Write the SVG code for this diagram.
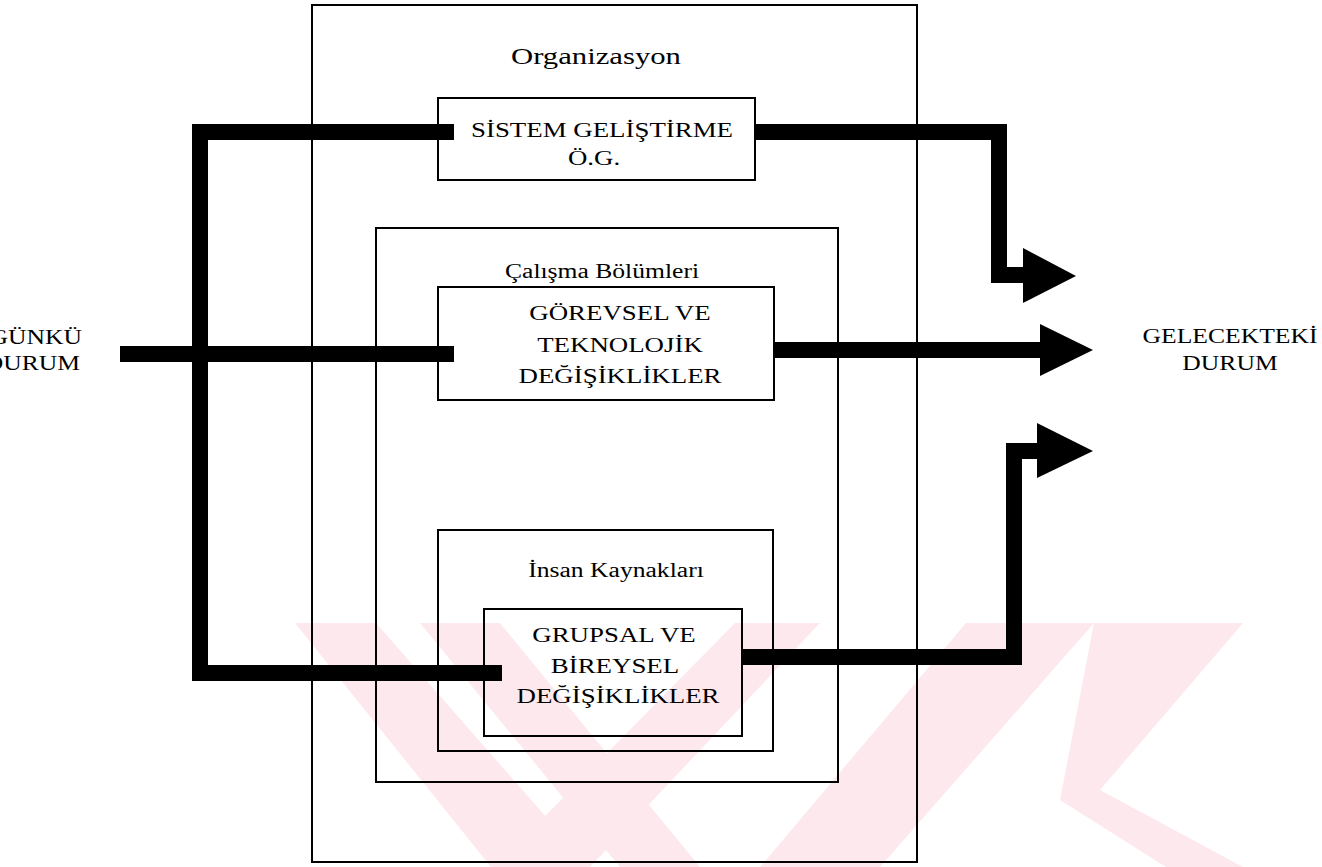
<svg xmlns="http://www.w3.org/2000/svg" width="1322" height="867" viewBox="0 0 1322 867">
  <style>
    .box { fill: none; stroke: #000; stroke-width: 2; }
    .flow { fill: none; stroke: #000; stroke-width: 16; stroke-linejoin: miter; stroke-linecap: butt; }
    .head { fill: #000; }
    text { font-family: "Liberation Serif", "Times New Roman", serif; fill: #000; }
    .t24 { font-size: 24px; }
    .t21 { font-size: 21px; }
    .t20 { font-size: 20px; }
    .wm { fill: #fde9ed; }
  </style>

  <rect width="1322" height="867" fill="#fff"/>

  <!-- pale background emblem -->
  <g id="emblem">
    <polygon class="wm" points="295,623 376,623 590,867 491,867"/>
    <polygon class="wm" points="420,623 500,623 700,867 620,867"/>
    <polygon class="wm" points="735,623 820,623 590,867 495,867"/>
    <polygon class="wm" points="966,623 1094,623 880,867 760,867"/>
    <polygon class="wm" points="1094,623 1243,623 1100,790 1243,867 1166,867 1060,800"/>
  </g>

  <!-- containers -->
  <g id="organizasyon">
    <rect class="box" x="312" y="5" width="605" height="857"/>
    <text class="t24" transform="translate(596,64) scale(1.28,1)" text-anchor="middle">Organizasyon</text>
  </g>

  <g id="sistem-gelistirme">
    <rect class="box" x="438" y="98" width="317" height="82"/>
    <text class="t21" transform="translate(602,137) scale(1.28,1)" text-anchor="middle">SİSTEM GELİŞTİRME</text>
    <text class="t21" transform="translate(594,165) scale(1.28,1)" text-anchor="middle">Ö.G.</text>
  </g>

  <g id="calisma-bolumleri">
    <rect class="box" x="376" y="228" width="462" height="554"/>
    <text class="t20" transform="translate(602,278) scale(1.28,1)" text-anchor="middle">Çalışma Bölümleri</text>
  </g>

  <g id="gorevsel">
    <rect class="box" x="438" y="287" width="336" height="113"/>
    <text class="t21" transform="translate(620,320) scale(1.28,1)" text-anchor="middle">GÖREVSEL VE</text>
    <text class="t21" transform="translate(620,352) scale(1.28,1)" text-anchor="middle">TEKNOLOJİK</text>
    <text class="t21" transform="translate(620,383) scale(1.28,1)" text-anchor="middle">DEĞİŞİKLİKLER</text>
  </g>

  <g id="insan-kaynaklari">
    <rect class="box" x="438" y="530" width="335" height="221"/>
    <text class="t20" transform="translate(616,577) scale(1.28,1)" text-anchor="middle">İnsan Kaynakları</text>
  </g>

  <g id="grupsal">
    <rect class="box" x="484" y="609" width="258" height="127"/>
    <text class="t21" transform="translate(614,642) scale(1.28,1)" text-anchor="middle">GRUPSAL VE</text>
    <text class="t21" transform="translate(615,673) scale(1.28,1)" text-anchor="middle">BİREYSEL</text>
    <text class="t21" transform="translate(618,703) scale(1.28,1)" text-anchor="middle">DEĞİŞİKLİKLER</text>
  </g>

  <g id="bugunku-durum">
    <text class="t20" transform="translate(82,344) scale(1.28,1)" text-anchor="end">BUGÜNKÜ</text>
    <text class="t20" transform="translate(80,370) scale(1.28,1)" text-anchor="end">DURUM</text>
  </g>

  <g id="gelecekteki-durum">
    <text class="t20" transform="translate(1230,343) scale(1.28,1)" text-anchor="middle">GELECEKTEKİ</text>
    <text class="t20" transform="translate(1230,370) scale(1.28,1)" text-anchor="middle">DURUM</text>
  </g>

  <!-- change flows -->
  <g id="connectors">
    <path class="flow" d="M120,354 H454"/>
    <path class="flow" d="M454,132 H200 V673 H502"/>
    <path class="flow" d="M755,132 H999 V275 H1030"/>
    <polygon class="head" points="1023,248 1076,276 1023,303"/>
    <path class="flow" d="M774,350 H1045"/>
    <polygon class="head" points="1040,324 1093,350 1040,376"/>
    <path class="flow" d="M742,657 H1014 V451 H1042"/>
    <polygon class="head" points="1037,423 1093,451 1037,478"/>
  </g>
</svg>
